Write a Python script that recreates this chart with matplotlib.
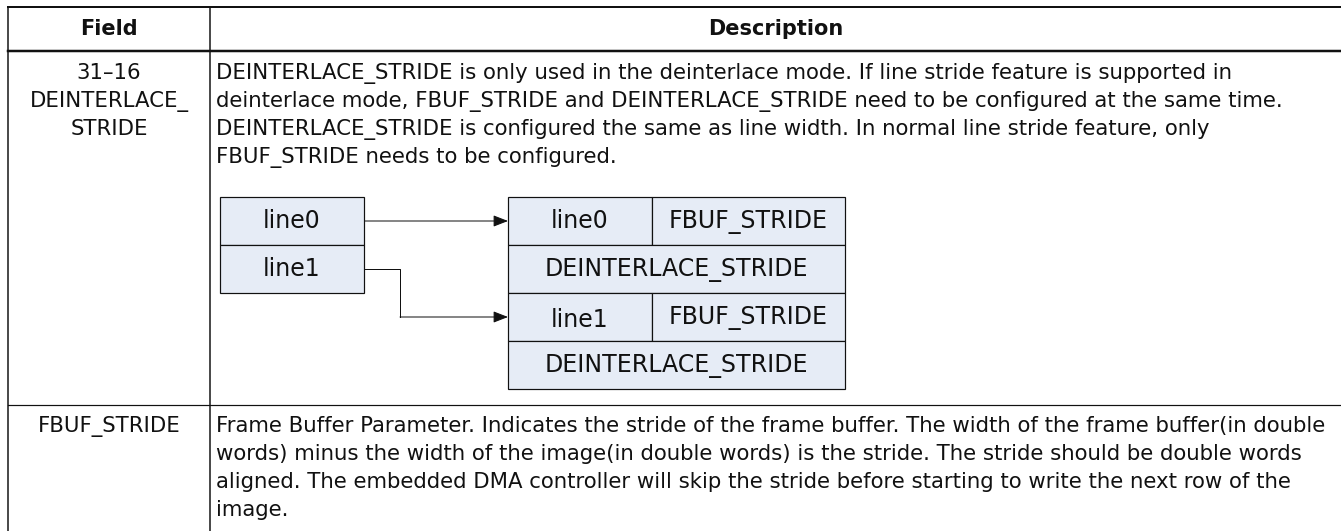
import matplotlib.pyplot as plt

plt.rcParams['font.family'] = ['DejaVu Sans']

# table content
header = ['Field', 'Description']
field1 = ['31\u201316', 'DEINTERLACE_', 'STRIDE']
desc1 = [
    'DEINTERLACE_STRIDE is only used in the deinterlace mode. If line stride feature is supported in',
    'deinterlace mode, FBUF_STRIDE and DEINTERLACE_STRIDE need to be configured at the same time.',
    'DEINTERLACE_STRIDE is configured the same as line width. In normal line stride feature, only',
    'FBUF_STRIDE needs to be configured.',
]
field2 = ['FBUF_STRIDE']
desc2 = [
    'Frame Buffer Parameter. Indicates the stride of the frame buffer. The width of the frame buffer(in double',
    'words) minus the width of the image(in double words) is the stride. The stride should be double words',
    'aligned. The embedded DMA controller will skip the stride before starting to write the next row of the',
    'image.',
]
src_labels = ['line0', 'line1']
dst_rows = [('line0', 'FBUF_STRIDE'), 'DEINTERLACE_STRIDE', ('line1', 'FBUF_STRIDE'), 'DEINTERLACE_STRIDE']

W, H = 1341, 531
fig = plt.figure(figsize=(W / 100, H / 100), dpi=100)
ax = fig.add_axes([0, 0, 1, 1])
ax.set_xlim(0, W)
ax.set_ylim(H, 0)
ax.axis('off')

ink = '#111111'
fill = '#e6ecf6'
fs = 15.3
fs_box = 17
px = 0.72

# table grid
x_left, x_div, x_right = 8, 210, 1341
y_top, y_head, y_row2 = 7, 51, 405
ax.plot([x_left, x_right], [y_top, y_top], color=ink, lw=2 * px)
ax.plot([x_left, x_right], [y_head, y_head], color=ink, lw=2.5 * px)
ax.plot([x_left, x_right], [y_row2, y_row2], color=ink, lw=1.2 * px)
ax.plot([x_left, x_left], [y_top, H], color=ink, lw=1.5 * px)
ax.plot([x_div, x_div], [y_top, H], color=ink, lw=1.5 * px)

# header
ax.text((x_left + x_div) / 2, 35, header[0], ha='center', va='baseline', fontsize=15, fontweight='bold', color=ink)
ax.text((x_div + x_right) / 2, 35, header[1], ha='center', va='baseline', fontsize=15, fontweight='bold', color=ink)

# body text, one baseline per line
step = 28
for i, s in enumerate(field1):
    ax.text((x_left + x_div) / 2, 79 + i * step, s, ha='center', va='baseline', fontsize=fs, color=ink)
for i, s in enumerate(desc1):
    ax.text(216, 79 + i * step, s, ha='left', va='baseline', fontsize=fs, color=ink)
for i, s in enumerate(field2):
    ax.text((x_left + x_div) / 2, 432 + i * step, s, ha='center', va='baseline', fontsize=fs, color=ink)
for i, s in enumerate(desc2):
    ax.text(216, 432 + i * step, s, ha='left', va='baseline', fontsize=fs, color=ink)

# diagram: source boxes
sx0, sx1, sy0, sh = 220, 364, 197, 48
for i, s in enumerate(src_labels):
    y = sy0 + i * sh
    ax.add_patch(plt.Rectangle((sx0, y), sx1 - sx0, sh, facecolor=fill, edgecolor=ink, lw=1.2 * px))
    ax.text((sx0 + sx1) / 2, y + sh / 2 + 7, s, ha='center', va='baseline', fontsize=fs_box, color=ink)

# diagram: destination boxes
dx0, dx1, dmid = 508, 845, 652
for i, r in enumerate(dst_rows):
    y = sy0 + i * sh
    if isinstance(r, tuple):
        ax.add_patch(plt.Rectangle((dx0, y), dmid - dx0, sh, facecolor=fill, edgecolor=ink, lw=1.2 * px))
        ax.add_patch(plt.Rectangle((dmid, y), dx1 - dmid, sh, facecolor=fill, edgecolor=ink, lw=1.2 * px))
        ax.text((dx0 + dmid) / 2, y + sh / 2 + (10 if i else 7), r[0], ha='center', va='baseline', fontsize=fs_box, color=ink)
        ax.text((dmid + dx1) / 2, y + sh / 2 + 7, r[1], ha='center', va='baseline', fontsize=fs_box, color=ink)
    else:
        ax.add_patch(plt.Rectangle((dx0, y), dx1 - dx0, sh, facecolor=fill, edgecolor=ink, lw=1.2 * px))
        ax.text((dx0 + dx1) / 2, y + sh / 2 + 7, r, ha='center', va='baseline', fontsize=fs_box, color=ink)

# arrows
arrow = dict(arrowstyle='-|>,head_length=0.9,head_width=0.35', color=ink, lw=1.0 * px, shrinkA=0, shrinkB=0)
ya = sy0 + sh / 2
ax.annotate('', xy=(dx0, ya), xytext=(sx1 + 1, ya), arrowprops=arrow)
yb = sy0 + 1.5 * sh
yc = sy0 + 2.5 * sh
xe = 400
ax.plot([sx1 + 1, xe, xe], [yb, yb, yc], color=ink, lw=1.0 * px)
ax.annotate('', xy=(dx0, yc), xytext=(xe, yc), arrowprops=arrow)

fig.savefig('out.png', dpi=100)
